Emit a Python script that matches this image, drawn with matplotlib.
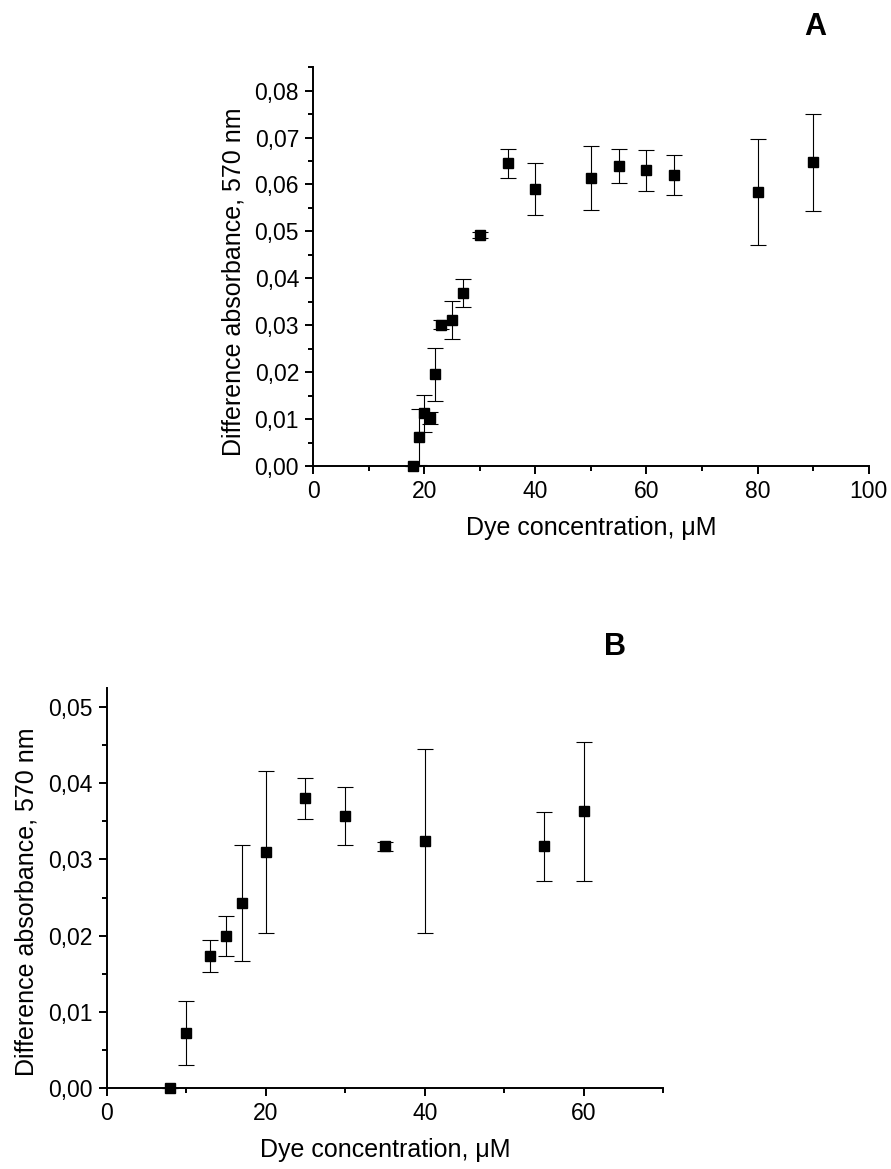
import numpy as np
import matplotlib
matplotlib.use("Agg")
import matplotlib.pyplot as plt
from matplotlib.ticker import MultipleLocator, FuncFormatter

plt.rcParams['font.family'] = ['Liberation Sans', 'DejaVu Sans']

# panel A
conc_a = [18, 19, 20, 21, 22, 23, 25, 27, 30, 35, 40, 50, 55, 60, 65, 80, 90]
abs_a = [0.0, 0.0062, 0.0112, 0.0102, 0.0195, 0.0301, 0.0311, 0.0368, 0.0492,
         0.0645, 0.0591, 0.0613, 0.0640, 0.0630, 0.0620, 0.0584, 0.0647]
err_a = [0.0, 0.0060, 0.0040, 0.0012, 0.0057, 0.0010, 0.0040, 0.0030, 0.0007,
         0.0031, 0.0055, 0.0068, 0.0036, 0.0043, 0.0043, 0.0112, 0.0103]

# panel B
conc_b = [8, 10, 13, 15, 17, 20, 25, 30, 35, 40, 55, 60]
abs_b = [0.0, 0.0073, 0.0173, 0.0200, 0.0243, 0.0310, 0.0380, 0.0357,
         0.0317, 0.0324, 0.0317, 0.0363]
err_b = [0.0, 0.0042, 0.0021, 0.0026, 0.0076, 0.0106, 0.0027, 0.0038,
         0.0006, 0.0121, 0.0045, 0.0091]

comma = FuncFormatter(lambda v, p: f"{v:.2f}".replace('.', ','))


def style_ax(ax, xmax, ymax):
    for s in ['top', 'right']:
        ax.spines[s].set_visible(False)
    for s in ['left', 'bottom']:
        ax.spines[s].set_linewidth(1.4)
    ax.set_xlim(0, xmax)
    ax.set_ylim(0, ymax)
    ax.xaxis.set_major_locator(MultipleLocator(20))
    ax.xaxis.set_minor_locator(MultipleLocator(10))
    ax.yaxis.set_major_locator(MultipleLocator(0.01))
    ax.yaxis.set_minor_locator(MultipleLocator(0.005))
    ax.yaxis.set_major_formatter(comma)
    ax.tick_params(which='major', direction='out', length=6, width=1.4, labelsize=16.5, pad=4)
    ax.tick_params(which='minor', direction='out', length=3.5, width=1.4)
    ax.set_xlabel('Dye concentration, μM', fontsize=18)
    ax.set_ylabel('Difference absorbance, 570 nm', fontsize=18)


fig = plt.figure(figsize=(8.91, 11.69), dpi=100)

ax1 = fig.add_axes([0.3513, 0.6014, 0.6238, 0.3411])
ax1.errorbar(conc_a, abs_a, yerr=err_a, fmt='s', color='black', ms=6.5,
             capsize=6, elinewidth=0.8, capthick=0.8, clip_on=False)
style_ax(ax1, 100, 0.085)
ax1.xaxis.set_label_coords(0.5, -0.125)
ax1.yaxis.set_label_coords(-0.122, 0.462)
fig.text(815 / 891, 1 - 27 / 1169, 'A', fontsize=22, fontweight='bold', ha='center', va='center')

ax2 = fig.add_axes([0.1198, 0.0690, 0.6246, 0.3427])
ax2.errorbar(conc_b, abs_b, yerr=err_b, fmt='s', color='black', ms=6.5,
             capsize=6, elinewidth=0.8, capthick=0.8, clip_on=False)
style_ax(ax2, 70, 0.0525)
ax2.xaxis.set_label_coords(0.5, -0.124)
ax2.yaxis.set_label_coords(-0.122, 0.466)
fig.text(615 / 891, 1 - 647 / 1169, 'B', fontsize=22, fontweight='bold', ha='center', va='center')

fig.savefig('out.png', dpi=100)
